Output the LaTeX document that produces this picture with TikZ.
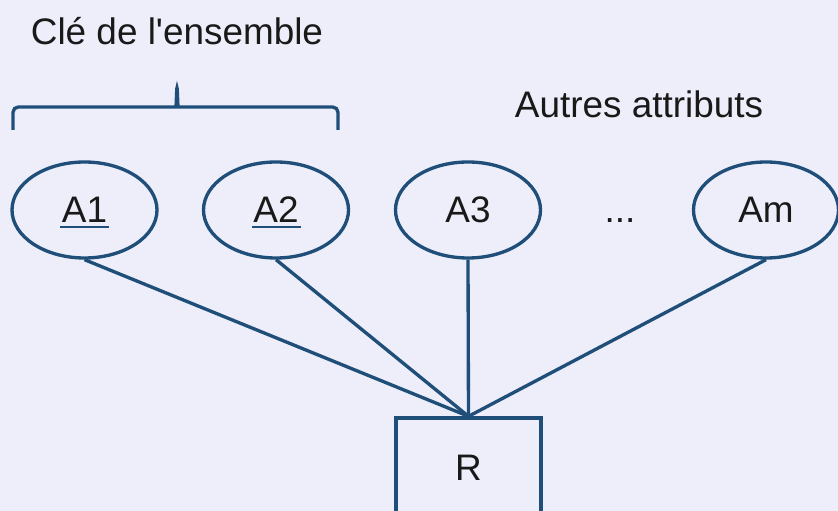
\documentclass[tikz,border=0pt]{standalone}
\usepackage{fontspec}
\setmainfont{Liberation Sans}
\usetikzlibrary{shapes.geometric}
\definecolor{erblue}{RGB}{31,78,121}
\definecolor{erback}{RGB}{238,238,250}

\begin{document}
\begin{tikzpicture}[
    every node/.style={font=\fontsize{21}{25}\selectfont, text=black!90},
    attr/.style={ellipse, draw=erblue, line width=1.9pt,
                 minimum width=2.9cm, minimum height=1.92cm, inner sep=0pt},
    rel/.style={rectangle, draw=erblue, line width=1.9pt,
                minimum width=2.9cm, minimum height=2cm},
    link/.style={draw=erblue, line width=1.9pt},
    keyline/.style={draw=erblue, line width=1.3pt}]
    % Background
    \fill[erback] (0,0) rectangle (16.76,10.22);
    \clip (0,0) rectangle (16.76,10.22);
    % Attributes
    \node[attr] (a1) at (1.69,6.02) {A1};
    \node[attr] (a2) at (5.52,6.02) {A2};
    \node[attr] (a3) at (9.36,6.02) {A3};
    \node[attr] (am) at (15.32,6.02) {Am};
    \node[anchor=base] (dots) at (12.40,5.76) {...};
    % Key underlines
    \draw[keyline] ([xshift=-0.49cm,yshift=-0.34cm]a1.center) -- ++(0.98,0);
    \draw[keyline] ([xshift=-0.49cm,yshift=-0.34cm]a2.center) -- ++(0.98,0);
    % Relation
    \node[rel] (r) at (9.37,0.86) {R};
    \foreach \a in {a1,a2,a3,am}
        \draw[link] (\a.south) -- (r.north);
    % Brace over the key
    \draw[link, rounded corners=3pt] (0.26,7.62) |- (3.42,8.08)
        .. controls (3.52,8.08) .. (3.54,8.52)
        .. controls (3.56,8.08) .. (3.66,8.08) -| (6.76,7.62);
    % Labels
    \node[anchor=base] (key) at (3.54,9.32) {Clé de l\textquotesingle ensemble};
    \node[anchor=base] (other) at (12.78,7.86) {Autres attributs};
\end{tikzpicture}
\end{document}
